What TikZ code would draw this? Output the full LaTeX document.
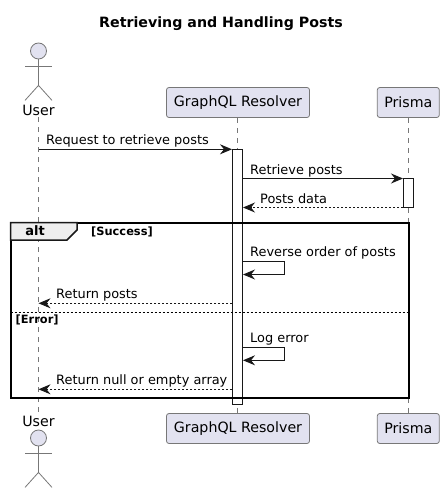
\documentclass[tikz,border=0pt]{standalone}
\usepackage{fontspec}
\setmainfont{DejaVu Sans}
\usetikzlibrary{positioning,arrows.meta,calc}
\definecolor{palBox}{HTML}{E2E2F0}
\definecolor{palEdge}{HTML}{181818}
\definecolor{palGrayEdge}{HTML}{777777}
\definecolor{palTab}{HTML}{EEEEEE}
\definecolor{palLife}{HTML}{777777}
\tikzset{
  partbox/.style={draw=palGrayEdge, line width=0.8pt, fill=palBox, rounded corners=2.5pt,
                  minimum height=30pt, inner sep=0pt, font=\fontsize{14.2}{16}\selectfont},
  actorhead/.style={draw=palGrayEdge, line width=0.8pt, fill=palBox, circle,
                    minimum size=16pt, inner sep=0pt},
  actorlimb/.style={draw=palGrayEdge, line width=0.8pt},
  actorlabel/.style={inner sep=0pt, font=\fontsize{14.2}{16}\selectfont},
  lifeline/.style={palLife, line width=0.7pt, dash pattern=on 5pt off 5pt},
  activebar/.style={draw=palEdge, line width=1pt, fill=white, minimum width=10pt,
                    inner sep=0pt},
  msgtext/.style={anchor=base west, inner sep=0pt, font=\fontsize{12.9}{15}\selectfont},
  guardtext/.style={anchor=base west, inner sep=0pt, font=\fontsize{11.4}{13}\selectfont\bfseries},
  callarrow/.style={palEdge, line width=1pt, -{Stealth[length=12pt,width=10pt,inset=4pt]}},
  backarrow/.style={callarrow, dash pattern=on 2pt off 2pt},
}
\begin{document}
\begin{tikzpicture}[x=1pt, y=-1pt]
\useasboundingbox (0,0) rectangle (444,494);
% Lifeline x-positions
\def\xUser{38.5}   \def\xResolver{237.5}   \def\xPrisma{408}
% Message y-positions
\def\yRequest{149.3}  \def\yRetrieve{178.5}  \def\yData{207.5}
\def\yPosts{303.3}    \def\yNull{389.3}

%% Title
\node[inner sep=0pt, font=\fontsize{14.2}{16}\selectfont\bfseries] (title) at (221, 23.5) {Retrieving and Handling Posts};

%% Participants
\node[partbox, minimum width=143pt] (resolverTop) at (238, 102.5) {GraphQL Resolver};
\node[partbox, minimum width=62pt]  (prismaTop)   at (408.3, 102.5) {Prisma};
\node[partbox, minimum width=143pt] (resolverBot) at (238, 428.5) {GraphQL Resolver};
\node[partbox, minimum width=62pt]  (prismaBot)   at (408.3, 428.5) {Prisma};

%% Actors
\foreach \n/\y in {userTop/51, userBot/438} {
  \node[actorhead] (\n) at (\xUser, \y) {};
  \draw[actorlimb] (\n.south) -- ++(0, 26);
  \draw[actorlimb] ($(\n.south)+(-13.5, 7)$) -- ++(27, 0);
  \draw[actorlimb] ($(\n.south)+(-13.5, 41)$) -- ++(13.5, -15) -- ++(13.5, 15);
}
\node[actorlabel] (userTopLabel) at (\xUser, 110) {User};
\node[actorlabel] (userBotLabel) at (\xUser, 421) {User};

%% Lifelines
\draw[lifeline] (userTopLabel.south) ++(0, 2) coordinate (userStart) -- (userStart |- userBotLabel.north);
\draw[lifeline] (resolverTop.south -| \xResolver, 0) -- (resolverBot.north -| \xResolver, 0);
\draw[lifeline] (prismaTop.south -| \xPrisma, 0) -- (prismaBot.north -| \xPrisma, 0);

%% Activations
\node[activebar, minimum height=255pt] (resolverBar) at (\xResolver, 276.8) {};
\node[activebar, minimum height=29pt]  (prismaBar)   at (408.5, 193) {};

%% Alt frame
\draw[line width=2pt, black] (10.5, 222.5) rectangle (408.5, 397.5);
\draw[line width=1.5pt, palEdge, fill=palTab] (10.5, 222.5) -- (77, 222.5) -- (77, 230) -- (67, 240) -- (10.5, 240) -- cycle;
\node[inner sep=0pt, font=\fontsize{13}{15}\selectfont\bfseries] (altlabel) at (35, 231) {alt};
\node[guardtext] (success) at (91, 235) {[Success]};
\coordinate (sepA) at (10.5, 312.3);
\coordinate (sepB) at (408.5, 312.3);
\draw[line width=0.8pt, black, dash pattern=on 2pt off 2pt] (sepA) -- (sepB);
\node[guardtext] (error) at (15.5, 323) {[Error]};

%% Message ends
\coordinate (reqFrom)  at (\xUser, \yRequest);
\coordinate (reqTo)    at (resolverBar.west |- reqFrom);
\coordinate (retFrom)  at (resolverBar.east |- 0, \yRetrieve);
\coordinate (retTo)    at (prismaBar.west |- retFrom);
\coordinate (dataFrom) at (prismaBar.west |- 0, \yData);
\coordinate (dataTo)   at (resolverBar.east |- dataFrom);
\coordinate (postFrom) at (resolverBar.west |- 0, \yPosts);
\coordinate (postTo)   at (\xUser, \yPosts);
\coordinate (nullFrom) at (resolverBar.west |- 0, \yNull);
\coordinate (nullTo)   at (\xUser, \yNull);

%% Messages
\draw[callarrow] (reqFrom) -- (reqTo);
\draw[callarrow] (retFrom) -- (retTo);
\draw[backarrow] (dataFrom) -- (dataTo);
\draw[backarrow] (postFrom) -- (postTo);
\draw[backarrow] (nullFrom) -- (nullTo);

%% Self messages
\coordinate (revFrom) at (resolverBar.east |- 0, 261.5);
\coordinate (revTo)   at (resolverBar.east |- 0, 274.5);
\coordinate (logFrom) at (resolverBar.east |- 0, 347.3);
\coordinate (logTo)   at (resolverBar.east |- 0, 360.3);
\draw[callarrow] (revFrom) -- (284.5, 261.5) -- (284.5, 274.5) -- (revTo);
\draw[callarrow] (logFrom) -- (284.5, 347.3) -- (284.5, 360.3) -- (logTo);

%% Message labels
\node[msgtext] (reqText)  at (46, 145)  {Request to retrieve posts};
\node[msgtext] (retText)  at (250, 174.5) {Retrieve posts};
\node[msgtext] (dataText) at (260, 203.5) {Posts data};
\node[msgtext] (revText)  at (250, 256)  {Reverse order of posts};
\node[msgtext] (postText) at (56, 298)   {Return posts};
\node[msgtext] (logText)  at (250, 342)  {Log error};
\node[msgtext] (nullText) at (56, 384.5) {Return null or empty array};
\end{tikzpicture}
\end{document}
